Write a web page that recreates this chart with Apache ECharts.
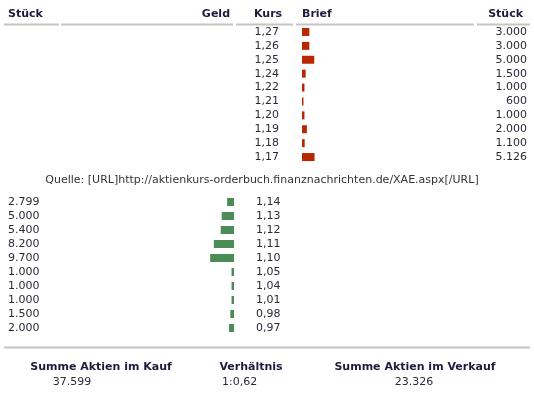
<!DOCTYPE html>
<html>
<head>
<meta charset="utf-8">
<script src="https://cdn.jsdelivr.net/npm/echarts@6/dist/echarts.min.js"></script>
<style>
html,body{margin:0;padding:0;background:#fff;}
#c{width:534px;height:394px;}
</style>
</head>
<body>
<div id="c"></div>
<script>
// Verkauf (Brief) – Kurs und Stück
var sellPrices = ['1,27','1,26','1,25','1,24','1,22','1,21','1,20','1,19','1,18','1,17'];
var sellQty = [3000, 3000, 5000, 1500, 1000, 600, 1000, 2000, 1100, 5126];
// Kauf (Geld) – Kurs und Stück
var buyPrices = ['1,14','1,13','1,12','1,11','1,10','1,05','1,04','1,01','0,98','0,97'];
var buyQty = [2799, 5000, 5400, 8200, 9700, 1000, 1000, 1000, 1500, 2000];

var headers = ['Stück', 'Geld', 'Kurs', 'Brief', 'Stück'];
var sourceText = 'Quelle: [URL]http://aktienkurs-orderbuch.finanznachrichten.de/XAE.aspx[/URL]';
var summaryLabels = ['Summe Aktien im Kauf', 'Verhältnis', 'Summe Aktien im Verkauf'];

function fmtDE(n) {
  var s = String(Math.round(n));
  return s.replace(/\B(?=(\d{3})+(?!\d))/g, '.');
}
var sumBuy = buyQty.reduce(function(a,b){return a+b;},0);
var sumSell = sellQty.reduce(function(a,b){return a+b;},0);
var ratio = '1:' + (sumSell / sumBuy).toFixed(2).replace('.', ',');

var FONT = '"DejaVu Sans", Verdana, sans-serif';
var TXT = '#2a2a3a';
var HDR = '#1c1c3c';
var RED = '#b82800';
var GREEN = '#4b8b56';

var chart = echarts.init(document.getElementById('c'), null, {renderer: 'canvas'});

function hLine(x1, x2, y, color, w) {
  return {type: 'line', shape: {x1: x1, y1: y, x2: x2, y2: y}, style: {stroke: color, lineWidth: w}, silent: true};
}
function txt(x, y, s, opts) {
  return {type: 'text', x: x, y: y, style: Object.assign({text: s, font: opts.font, fill: opts.fill || TXT,
    textAlign: opts.align || 'left', textVerticalAlign: 'middle'}), silent: true};
}
var boldF = 'bold 11px ' + FONT;
var regF = '11px ' + FONT;

var graphics = [
  txt(8, 14, headers[0], {font: boldF, fill: HDR}),
  txt(230, 14, headers[1], {font: boldF, fill: HDR, align: 'right'}),
  txt(254, 14, headers[2], {font: boldF, fill: HDR}),
  txt(302, 14, headers[3], {font: boldF, fill: HDR}),
  txt(523, 14, headers[4], {font: boldF, fill: HDR, align: 'right'}),
  hLine(4, 59, 24.5, '#c4c4c4', 2),
  hLine(61, 233, 24.5, '#c4c4c4', 2),
  hLine(236, 293, 24.5, '#c4c4c4', 2),
  hLine(296, 474, 24.5, '#c4c4c4', 2),
  hLine(477, 530, 24.5, '#c4c4c4', 2),
  txt(262, 180, sourceText, {font: '11px ' + FONT, fill: '#333', align: 'center'}),
  hLine(4, 530, 347.5, '#c4c4c4', 2),
  txt(101, 367, summaryLabels[0], {font: boldF, fill: HDR, align: 'center'}),
  txt(251, 367, summaryLabels[1], {font: boldF, fill: HDR, align: 'center'}),
  txt(415, 367, summaryLabels[2], {font: boldF, fill: HDR, align: 'center'}),
  txt(72, 382, fmtDE(sumBuy), {font: regF, align: 'center'}),
  txt(222, 382, ratio, {font: regF}),
  txt(414, 382, fmtDE(sumSell), {font: regF, align: 'center'})
];

var axisLbl = {fontFamily: FONT, fontSize: 11, color: TXT, interval: 0, padding: [2, 0, 0, 0]};
var hiddenCat = {axisLine: {show: false}, axisTick: {show: false}, splitLine: {show: false}};

chart.setOption({
  animation: false,
  backgroundColor: '#fff',
  grid: [
    {left: 302, right: 7, top: 25, height: 139},
    {left: 8, right: 300, top: 195, height: 140}
  ],
  xAxis: [
    {type: 'value', gridIndex: 0, min: 0, max: 92000, show: false},
    {type: 'value', gridIndex: 1, min: 0, max: 92000, show: false, inverse: true}
  ],
  yAxis: [
    Object.assign({type: 'category', gridIndex: 0, position: 'left', inverse: true, data: sellPrices,
      axisLabel: Object.assign({margin: 23, align: 'right'}, axisLbl)}, hiddenCat),
    Object.assign({type: 'category', gridIndex: 0, position: 'right', inverse: true, data: sellQty.map(fmtDE),
      axisLabel: Object.assign({margin: 0, align: 'right'}, axisLbl)}, hiddenCat),
    Object.assign({type: 'category', gridIndex: 1, position: 'left', inverse: true, data: buyQty.map(fmtDE),
      axisLabel: Object.assign({margin: 0, align: 'left'}, axisLbl)}, hiddenCat),
    Object.assign({type: 'category', gridIndex: 1, position: 'right', inverse: true, data: buyPrices,
      axisLabel: Object.assign({margin: 22, align: 'left'}, axisLbl)}, hiddenCat)
  ],
  series: [
    {type: 'bar', xAxisIndex: 0, yAxisIndex: 0, data: sellQty, barWidth: 8,
      itemStyle: {color: RED}, silent: true},
    {type: 'bar', xAxisIndex: 1, yAxisIndex: 2, data: buyQty, barWidth: 8,
      itemStyle: {color: GREEN}, silent: true}
  ],
  graphic: graphics
});
</script>
</body>
</html>
